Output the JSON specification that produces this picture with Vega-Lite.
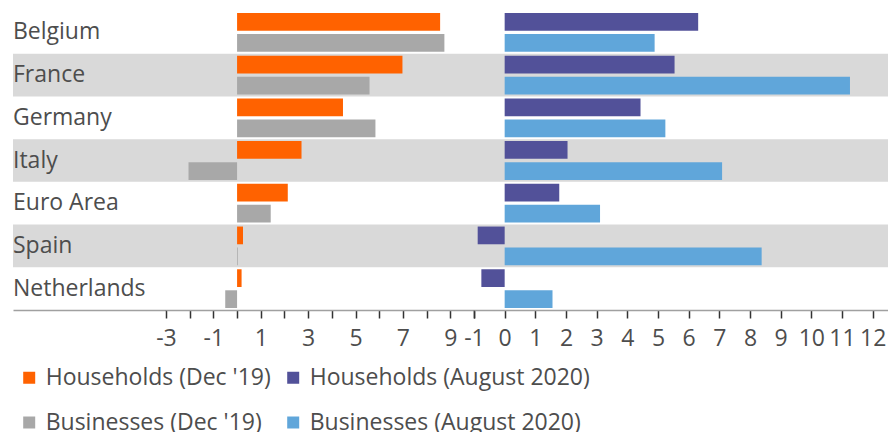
{
  "$schema": "https://vega.github.io/schema/vega-lite/v6.json",
  "padding": {"left": 13, "top": 11, "right": 0, "bottom": 0},
  "bounds": "flush",
  "spacing": 0,
  "config": {
    "view": {"stroke": null},
    "font": "Open Sans",
    "axis": {
      "domainColor": "#a0a0a0",
      "domainWidth": 1.5,
      "tickColor": "#333333",
      "tickWidth": 1.5,
      "tickSize": 8,
      "labelFontSize": 23,
      "labelColor": "#4d4d4d",
      "labelPadding": 9,
      "labelFlush": false,
      "labelOverlap": false,
      "grid": false,
      "title": null
    },
    "axisX": {"labelOverlap": false},
    "axisQuantitative": {"labelOverlap": false}
  },
  "data": {
    "values": [
      {"country": "Belgium", "period": "Dec19", "type": "Households", "series": "Households (Dec '19)", "value": 8.57},
      {"country": "Belgium", "period": "Dec19", "type": "Businesses", "series": "Businesses (Dec '19)", "value": 8.75},
      {"country": "Belgium", "period": "Aug20", "type": "Households", "series": "Households (August 2020)", "value": 6.31},
      {"country": "Belgium", "period": "Aug20", "type": "Businesses", "series": "Businesses (August 2020)", "value": 4.89},
      {"country": "France", "period": "Dec19", "type": "Households", "series": "Households (Dec '19)", "value": 6.98},
      {"country": "France", "period": "Dec19", "type": "Businesses", "series": "Businesses (Dec '19)", "value": 5.59},
      {"country": "France", "period": "Aug20", "type": "Households", "series": "Households (August 2020)", "value": 5.54},
      {"country": "France", "period": "Aug20", "type": "Businesses", "series": "Businesses (August 2020)", "value": 11.26},
      {"country": "Germany", "period": "Dec19", "type": "Households", "series": "Households (Dec '19)", "value": 4.47},
      {"country": "Germany", "period": "Dec19", "type": "Businesses", "series": "Businesses (Dec '19)", "value": 5.84},
      {"country": "Germany", "period": "Aug20", "type": "Households", "series": "Households (August 2020)", "value": 4.43},
      {"country": "Germany", "period": "Aug20", "type": "Businesses", "series": "Businesses (August 2020)", "value": 5.24},
      {"country": "Italy", "period": "Dec19", "type": "Households", "series": "Households (Dec '19)", "value": 2.72},
      {"country": "Italy", "period": "Dec19", "type": "Businesses", "series": "Businesses (Dec '19)", "value": -2.05},
      {"country": "Italy", "period": "Aug20", "type": "Households", "series": "Households (August 2020)", "value": 2.05},
      {"country": "Italy", "period": "Aug20", "type": "Businesses", "series": "Businesses (August 2020)", "value": 7.09},
      {"country": "Euro Area", "period": "Dec19", "type": "Households", "series": "Households (Dec '19)", "value": 2.14},
      {"country": "Euro Area", "period": "Dec19", "type": "Businesses", "series": "Businesses (Dec '19)", "value": 1.42},
      {"country": "Euro Area", "period": "Aug20", "type": "Households", "series": "Households (August 2020)", "value": 1.78},
      {"country": "Euro Area", "period": "Aug20", "type": "Businesses", "series": "Businesses (August 2020)", "value": 3.11},
      {"country": "Spain", "period": "Dec19", "type": "Households", "series": "Households (Dec '19)", "value": 0.25},
      {"country": "Spain", "period": "Dec19", "type": "Businesses", "series": "Businesses (Dec '19)", "value": 0.03},
      {"country": "Spain", "period": "Aug20", "type": "Households", "series": "Households (August 2020)", "value": -0.88},
      {"country": "Spain", "period": "Aug20", "type": "Businesses", "series": "Businesses (August 2020)", "value": 8.38},
      {"country": "Netherlands", "period": "Dec19", "type": "Households", "series": "Households (Dec '19)", "value": 0.19},
      {"country": "Netherlands", "period": "Dec19", "type": "Businesses", "series": "Businesses (Dec '19)", "value": -0.5},
      {"country": "Netherlands", "period": "Aug20", "type": "Households", "series": "Households (August 2020)", "value": -0.76},
      {"country": "Netherlands", "period": "Aug20", "type": "Businesses", "series": "Businesses (August 2020)", "value": 1.56}
    ]
  },
  "resolve": {"scale": {"x": "independent", "y": "shared", "yOffset": "shared", "color": "shared"}},
  "hconcat": [
    {
      "width": 153,
      "height": 299,
      "transform": [
        {"filter": {"field": "period", "equal": "Dec19"}},
        {"filter": {"field": "type", "equal": "Households"}}
      ],
      "layer": [
        {
          "transform": [{"filter": {"field": "country", "oneOf": ["France", "Italy", "Spain"]}}],
          "mark": {"type": "rect", "color": "#d9d9d9"},
          "encoding": {
            "y": {"field": "country", "type": "nominal", "sort": ["Belgium", "France", "Germany", "Italy", "Euro Area", "Spain", "Netherlands"], "scale": {"paddingInner": 0, "paddingOuter": 0}, "axis": null},
            "x": {"datum": 0, "type": "quantitative", "scale": {"domain": [0, 1], "nice": false, "zero": false}, "axis": {"labels": false, "ticks": false, "domain": true}},
            "x2": {"datum": 1}
          }
        },
        {
          "mark": {"type": "text", "align": "left", "baseline": "middle", "fontSize": 23, "color": "#4d4d4d", "font": "Open Sans"},
          "encoding": {
            "y": {"field": "country", "type": "nominal", "sort": ["Belgium", "France", "Germany", "Italy", "Euro Area", "Spain", "Netherlands"], "axis": null},
            "x": {"datum": 0, "type": "quantitative"},
            "text": {"field": "country"}
          }
        }
      ]
    },
    {
      "width": 308,
      "height": 299,
      "transform": [{"filter": {"field": "period", "equal": "Dec19"}}],
      "layer": [
        {
          "transform": [
            {"filter": {"field": "type", "equal": "Households"}},
            {"filter": {"field": "country", "oneOf": ["France", "Italy", "Spain"]}}
          ],
          "mark": {"type": "rect", "color": "#d9d9d9"},
          "encoding": {
            "y": {"field": "country", "type": "nominal", "sort": ["Belgium", "France", "Germany", "Italy", "Euro Area", "Spain", "Netherlands"], "axis": null},
            "x": {"datum": -3, "type": "quantitative", "scale": {"domain": [-3, 10], "nice": false, "zero": false},
                  "axis": {"values": [-3, -2, -1, 0, 1, 2, 3, 4, 5, 6, 7, 8, 9, 10], "labelOverlap": false, "labelExpr": "datum.value % 2 != 0 ? '' + datum.value : ''"}},
            "x2": {"datum": 10}
          }
        },
        {
          "mark": {"type": "bar"},
          "encoding": {
            "y": {"field": "country", "type": "nominal", "sort": ["Belgium", "France", "Germany", "Italy", "Euro Area", "Spain", "Netherlands"], "axis": null},
            "yOffset": {"field": "type", "type": "nominal", "sort": ["Households", "Businesses"], "scale": {"paddingInner": 0.157, "paddingOuter": 0.094}},
            "x": {"field": "value", "type": "quantitative",
                  "axis": {"values": [-3, -2, -1, 0, 1, 2, 3, 4, 5, 6, 7, 8, 9, 10], "labelOverlap": false, "labelExpr": "datum.value % 2 != 0 ? '' + datum.value : ''"}},
            "color": {
              "field": "series", "type": "nominal",
              "scale": {
                "domain": ["Households (Dec '19)", "Businesses (Dec '19)", "Households (August 2020)", "Businesses (August 2020)"],
                "range": ["#ff6200", "#a8a8a8", "#525199", "#60a6da"]
              },
              "legend": {
                "orient": "none", "legendX": 4.7, "legendY": 355, "columns": 2, "title": null,
                "symbolType": "square", "symbolSize": 144, "symbolStrokeWidth": 0,
                "labelFontSize": 23, "labelColor": "#4d4d4d", "labelFont": "Open Sans", "labelLimit": 0,
                "labelOffset": 5, "columnPadding": 10, "rowPadding": 21, "padding": 0
              }
            }
          }
        }
      ]
    },
    {
      "width": 414,
      "height": 299,
      "transform": [{"filter": {"field": "period", "equal": "Aug20"}}],
      "layer": [
        {
          "transform": [
            {"filter": {"field": "type", "equal": "Households"}},
            {"filter": {"field": "country", "oneOf": ["France", "Italy", "Spain"]}}
          ],
          "mark": {"type": "rect", "color": "#d9d9d9"},
          "encoding": {
            "y": {"field": "country", "type": "nominal", "sort": ["Belgium", "France", "Germany", "Italy", "Euro Area", "Spain", "Netherlands"], "axis": null},
            "x": {"datum": -1, "type": "quantitative", "scale": {"domain": [-1, 12.5], "nice": false, "zero": false},
                  "axis": {"values": [-1, 0, 1, 2, 3, 4, 5, 6, 7, 8, 9, 10, 11, 12], "labelOverlap": false, "labelExpr": "'' + datum.value"}},
            "x2": {"datum": 12.5}
          }
        },
        {
          "mark": {"type": "bar"},
          "encoding": {
            "y": {"field": "country", "type": "nominal", "sort": ["Belgium", "France", "Germany", "Italy", "Euro Area", "Spain", "Netherlands"], "axis": null},
            "yOffset": {"field": "type", "type": "nominal", "sort": ["Households", "Businesses"]},
            "x": {"field": "value", "type": "quantitative",
                  "axis": {"values": [-1, 0, 1, 2, 3, 4, 5, 6, 7, 8, 9, 10, 11, 12], "labelOverlap": false, "labelExpr": "'' + datum.value"}},
            "color": {"field": "series", "type": "nominal"}
          }
        }
      ]
    }
  ]
}
